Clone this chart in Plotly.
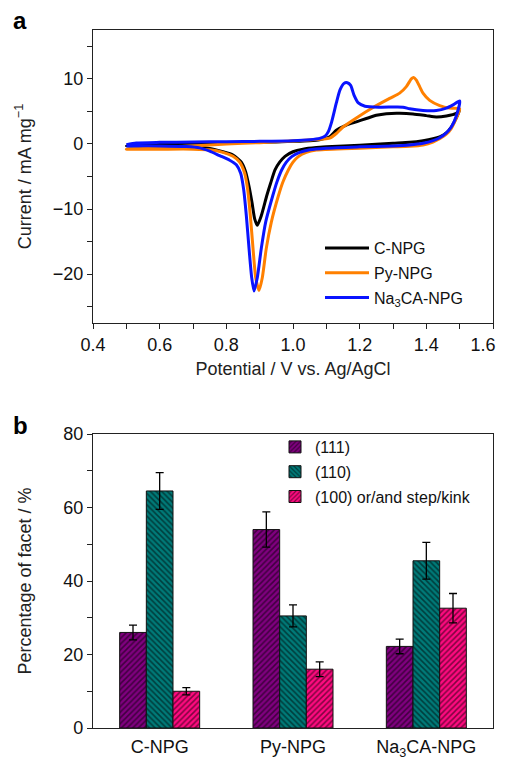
import plotly.graph_objects as go

# ---------------- Panel a: cyclic voltammograms ----------------
# C-NPG loop (anodic 0.5->1.5 V then cathodic 1.5->0.5 V)
cnpg_E = [0.50, 0.55, 0.60, 0.70, 0.80, 0.90, 1.00, 1.05, 1.08, 1.11, 1.13, 1.16, 1.19, 1.22, 1.25,
          1.28, 1.32, 1.36, 1.40, 1.43, 1.46, 1.49, 1.50,
          1.49, 1.475, 1.46, 1.44, 1.42, 1.39, 1.35, 1.30, 1.20, 1.10, 1.07, 1.03, 1.00, 0.976, 0.96,
          0.946, 0.933, 0.921, 0.905, 0.893, 0.885, 0.877, 0.868, 0.858, 0.845, 0.82, 0.79, 0.75,
          0.70, 0.60, 0.50]
cnpg_I = [-0.3, -0.1, 0.0, 0.1, 0.2, 0.25, 0.4, 0.5, 0.65, 1.1, 2.1, 2.9, 3.4, 3.9, 4.4,
          4.65, 4.7, 4.6, 4.35, 4.15, 4.3, 4.7, 5.2,
          4.0, 2.6, 1.7, 1.1, 0.8, 0.5, 0.25, 0.1, -0.2, -0.45, -0.55, -0.8, -1.2, -1.9, -2.8,
          -4.0, -6.0, -8.0, -11.0, -12.5, -11.5, -9.0, -6.5, -4.3, -2.8, -1.7, -1.2, -0.7,
          -0.45, -0.35, -0.3]

# Py-NPG loop
py_E = [0.50, 0.55, 0.60, 0.70, 0.80, 0.90, 1.00, 1.05, 1.09, 1.11, 1.13, 1.15, 1.19, 1.24, 1.29,
        1.32, 1.34, 1.355, 1.362, 1.37, 1.38, 1.39, 1.41, 1.44, 1.47, 1.50,
        1.49, 1.475, 1.46, 1.44, 1.42, 1.39, 1.35, 1.30, 1.20, 1.10, 1.07, 1.04, 1.016, 1.00,
        0.986, 0.97, 0.956, 0.935, 0.92, 0.908, 0.898, 0.888, 0.88, 0.872, 0.864, 0.855, 0.84,
        0.82, 0.79, 0.75, 0.70, 0.60, 0.50]
py_I = [-0.8, -0.7, -0.55, -0.3, 0.0, 0.2, 0.45, 0.6, 0.75, 0.9, 1.6, 2.6, 4.0, 5.6, 7.0,
        7.8, 8.8, 10.0, 10.2, 9.8, 8.8, 7.8, 6.7, 5.9, 5.5, 5.4,
        4.0, 2.4, 1.5, 0.8, 0.3, -0.15, -0.35, -0.45, -0.65, -0.85, -0.95, -1.3, -1.95, -2.8,
        -4.0, -5.8, -8.0, -12.0, -16.0, -20.5, -22.5, -20.5, -16.0, -11.0, -7.0, -4.5, -2.8,
        -1.9, -1.3, -0.9, -0.8, -0.8, -0.8]

# Na3CA-NPG loop
na_E = [0.50, 0.53, 0.60, 0.70, 0.80, 0.90, 1.00, 1.05, 1.08, 1.096, 1.106, 1.116, 1.13, 1.141,
        1.153, 1.163, 1.173, 1.183, 1.196, 1.216, 1.26, 1.33, 1.35, 1.39, 1.43, 1.46, 1.48, 1.50,
        1.49, 1.475, 1.46, 1.44, 1.42, 1.39, 1.35, 1.30, 1.20, 1.10, 1.05, 1.02, 0.996, 0.98,
        0.966, 0.952, 0.939, 0.918, 0.905, 0.893, 0.883, 0.876, 0.868, 0.86, 0.852, 0.843, 0.83,
        0.81, 0.78, 0.75, 0.72, 0.68, 0.60, 0.50]
na_I = [-0.1, 0.15, 0.25, 0.3, 0.35, 0.4, 0.5, 0.65, 0.85, 1.2, 1.9, 3.4, 6.3, 8.3,
        9.3, 9.4, 9.0, 7.5, 6.3, 5.8, 5.65, 5.65, 5.4, 5.15, 5.15, 5.5, 6.0, 6.6,
        4.3, 2.6, 1.7, 0.95, 0.5, 0.1, -0.15, -0.3, -0.45, -0.65, -0.9, -1.3, -1.95, -2.8,
        -4.0, -5.8, -8.0, -12.0, -16.0, -20.5, -22.6, -20.5, -16.0, -11.0, -7.0, -4.5, -3.2,
        -2.5, -1.8, -1.1, -0.6, -0.4, -0.3, -0.3]

cv_names = ["C-NPG", "Py-NPG", "Na<sub>3</sub>CA-NPG"]
cv_colors = ["#000000", "#FF8000", "#0A14FF"]

# potential axis tick labels (last one padded so it is not clipped at the page edge)
potential_ticks = [0.4, 0.6, 0.8, 1.0, 1.2, 1.4, 1.6]
potential_ticktext = ["0.4", "0.6", "0.8", "1.0", "1.2", "1.4", "1.6\u00a0\u00a0\u00a0\u00a0"]

# ---------------- Panel b: facet percentages ----------------
samples = ["C-NPG", "Py-NPG", "Na3CA-NPG"]
sample_labels = ["C-NPG", "Py-NPG", "Na<sub>3</sub>CA-NPG"]
facet_names = ["(111)", "(110)", "(100) or/and step/kink"]
facet_111 = [26.0, 54.0, 22.2]
facet_110 = [64.5, 30.5, 45.5]
facet_100 = [10.0, 16.0, 32.6]
err_111 = [2.0, 4.8, 2.0]
err_110 = [5.0, 3.0, 5.0]
err_100 = [1.0, 2.0, 4.0]
facet_colors = ["#80007F", "#007A78", "#FF0A80"]
facet_shapes = ["/", "\\", "/"]

FONT = "Liberation Sans, Arial, sans-serif"
AX = "#222222"

fig = go.Figure()

for i, (E, I) in enumerate([(cnpg_E, cnpg_I), (py_E, py_I), (na_E, na_I)]):
    fig.add_trace(go.Scatter(
        x=E, y=I, mode="lines", name=cv_names[i],
        line=dict(color=cv_colors[i], width=3, shape="spline", smoothing=0.6),
        xaxis="x", yaxis="y", legend="legend", legendgroup=f"a{i}",
    ))

for vals, errs, name, col, shp in zip([facet_111, facet_110, facet_100],
                                      [err_111, err_110, err_100],
                                      facet_names, facet_colors, facet_shapes):
    fig.add_trace(go.Bar(
        x=samples, y=vals, name=name,
        marker=dict(color=col, line=dict(color="#111111", width=1),
                    pattern=dict(shape=shp, fgcolor="#000000", bgcolor=col,
                                 size=4, solidity=0.38)),
        error_y=dict(type="data", array=errs, color="#000000", thickness=1.3, width=4),
        xaxis="x2", yaxis="y2", legend="legend2", legendgroup=name,
    ))

# The page puts the figure 8 px in from the top-left corner; margins compensate.
H = 758
t_m, b_m = 22, 38
ph = H - t_m - b_m
def fy(screen_py):
    return (728 - screen_py) / ph
def fx(screen_px):
    return (screen_px - 93) / 400

dom_a = [fy(323), 1.0]
dom_b = [0.0, fy(434)]

common = dict(showgrid=False, zeroline=False, color=AX, linecolor=AX, linewidth=1.3,
              tickwidth=1.2, automargin=False, ticklabeloverflow="allow",
              tickfont=dict(size=18, color="#111111", family=FONT))
overlay = dict(showticklabels=False, showline=False, showgrid=False, zeroline=False,
               tickcolor=AX, tickwidth=1.2, automargin=False)

fig.update_layout(
    width=505, height=H,
    margin=dict(l=85, r=20, t=t_m, b=b_m, autoexpand=False),
    paper_bgcolor="white", plot_bgcolor="white",
    font=dict(family=FONT, color="#111111"),
    showlegend=True,
    barmode="group", bargap=0.4, bargroupgap=0.0,
    xaxis=dict(domain=[0, 1], anchor="y", range=[0.4, 1.6],
               tickvals=potential_ticks, ticktext=potential_ticktext,
               ticks="outside", ticklen=5, tickcolor=AX, showline=True, mirror=True,
               minor=dict(tick0=0.4, dtick=0.1, ticks="outside", ticklen=5, tickcolor=AX,
                          tickwidth=1.2),
               title=dict(text="Potential / V vs. Ag/AgCl", font=dict(size=18), standoff=8),
               **common),
    yaxis=dict(domain=dom_a, anchor="x", range=[-27.5, 17.5], tick0=0, dtick=10,
               ticks="outside", ticklen=5, tickcolor=AX, showline=True, mirror=True,
               minor=dict(dtick=5, ticks="outside", ticklen=5, tickcolor=AX, tickwidth=1.2),
               title=dict(text="Current / mA mg<sup>−1</sup>", font=dict(size=18), standoff=16),
               **common),
    xaxis3=dict(overlaying="x", anchor="y", side="top", range=[0.4, 1.6], tick0=0.4, dtick=0.1,
                ticks="inside", ticklen=3, **overlay),
    yaxis3=dict(overlaying="y", anchor="x", side="right", range=[-27.5, 17.5], tick0=0, dtick=5,
                ticks="inside", ticklen=4, **overlay),
    xaxis2=dict(domain=[0, 1], anchor="y2", type="category", categoryorder="array",
                categoryarray=samples, range=[-0.5, 2.5], tickvals=samples, ticktext=sample_labels,
                ticks="outside", ticklen=2, tickcolor="rgba(0,0,0,0)", showline=True, mirror=True,
                **common),
    xaxis4=dict(overlaying="x2", anchor="y2", side="bottom", range=[-0.5, 2.5],
                tick0=-0.5, dtick=0.5, ticks="outside", ticklen=5, **overlay),
    xaxis5=dict(overlaying="x2", anchor="y2", side="top", range=[-0.5, 2.5], tick0=-0.5, dtick=0.5,
                ticks="inside", ticklen=3, **overlay),
    yaxis2=dict(domain=dom_b, anchor="x2", range=[0, 80], tick0=0, dtick=20,
                ticks="outside", ticklen=5, tickcolor=AX, showline=True, mirror=True,
                minor=dict(dtick=10, ticks="outside", ticklen=5, tickcolor=AX, tickwidth=1.2),
                title=dict(text="Percentage of facet / %", font=dict(size=18), standoff=26),
                **common),
    yaxis4=dict(overlaying="y2", anchor="x2", side="right", range=[0, 80], tick0=0, dtick=10,
                ticks="inside", ticklen=4, **overlay),
    legend=dict(x=fx(320), xanchor="left", y=fy(231), yanchor="top",
                bgcolor="rgba(0,0,0,0)", font=dict(size=16, family=FONT), itemwidth=44,
                tracegroupgap=1),
    legend2=dict(x=fx(275), xanchor="left", y=fy(430), yanchor="top",
                 bgcolor="rgba(0,0,0,0)", font=dict(size=16, family=FONT),
                 tracegroupgap=1),
    annotations=[
        dict(text="<b>a</b>", x=fx(20), y=fy(21), xref="paper", yref="paper",
             xanchor="center", yanchor="middle", showarrow=False,
             font=dict(size=24, family=FONT, color="#000000")),
        dict(text="<b>b</b>", x=fx(20), y=fy(425), xref="paper", yref="paper",
             xanchor="center", yanchor="middle", showarrow=False,
             font=dict(size=24, family=FONT, color="#000000")),
    ],
)

fig.write_html("out.html")
